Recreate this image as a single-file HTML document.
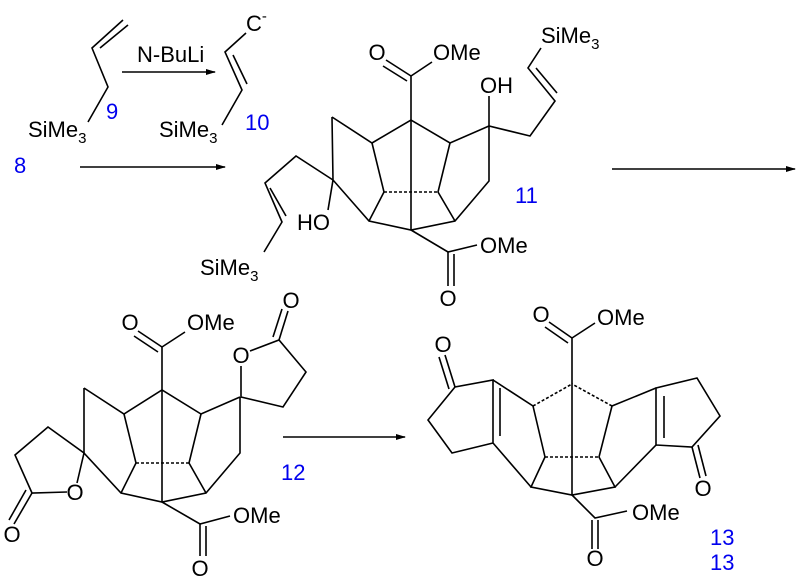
<!DOCTYPE html>
<html><head><meta charset="utf-8"><style>
html,body{margin:0;padding:0;background:#fff}
svg{display:block}
text{font-family:"Liberation Sans",sans-serif;font-size:22px;fill:#000}
.b{fill:#0000ee}
</style></head><body>
<svg width="800" height="584" viewBox="0 0 800 584" xmlns="http://www.w3.org/2000/svg">
<defs><marker id="ah" markerWidth="10" markerHeight="8" refX="9" refY="4" orient="auto" markerUnits="userSpaceOnUse"><path d="M0,1 L10,4 L0,7 Z" fill="#000"/></marker></defs>
<g stroke="#000" stroke-width="1.6" fill="none">
<line x1="122" y1="72" x2="215" y2="72" marker-end="url(#ah)"/>
<line x1="80" y1="167" x2="225" y2="167" marker-end="url(#ah)"/>
<line x1="612" y1="169" x2="795" y2="169" marker-end="url(#ah)"/>
<line x1="283" y1="437" x2="405" y2="437" marker-end="url(#ah)"/>
<polyline points="123,20 92,48 108,87 88,122"/>
<line x1="128" y1="25" x2="100" y2="48"/>
<polyline points="246,33 225,52 242,90 222,125"/>
<line x1="233" y1="55" x2="247" y2="84"/>
<polyline points="332,117 372,143 411,120 450,143 489,126 530,136 555,101 528,68 541,48"/>
<line x1="536" y1="68" x2="557" y2="93"/>
<polyline points="332,117 333,180 369,221 411,230 455,221 489,181 489,126"/>
<polyline points="372,143 384,192 369,221"/>
<polyline points="450,143 438,192 455,221"/>
<line x1="384" y1="192" x2="438" y2="192" stroke-dasharray="3,2"/>
<line x1="411" y1="120" x2="411" y2="230"/>
<line x1="489" y1="126" x2="489" y2="96"/>
<line x1="333" y1="180" x2="328" y2="210"/>
<polyline points="333,180 296,156 265,183 282,222 264,252"/>
<line x1="270" y1="188" x2="286" y2="216"/>
<polyline points="411,120 411,76 432,62"/>
<line x1="411" y1="76" x2="386" y2="60"/><line x1="407" y1="81" x2="383" y2="66"/>
<polyline points="411,230 448,252 477,245"/>
<line x1="448" y1="252" x2="448" y2="286"/><line x1="454" y1="254" x2="454" y2="286"/>
<polyline points="84,388 124,414 162,390 201,414 240,397"/>
<polyline points="84,388 84,453 121,493 162,502 206,493 240,453 240,397"/>
<polyline points="124,414 136,463 121,493"/>
<polyline points="201,414 189,463 206,493"/>
<line x1="136" y1="463" x2="189" y2="463" stroke-dasharray="3,2"/>
<line x1="162" y1="390" x2="162" y2="502"/>
<polyline points="77,483 84,453 48,427 15,455 32,493 67,492"/>
<line x1="32" y1="493" x2="14" y2="524"/><line x1="26" y1="490" x2="9" y2="520"/>
<polyline points="241,366 241,397 283,407 306,372 279,340 250,351"/>
<line x1="279" y1="340" x2="288" y2="311"/><line x1="273" y1="337" x2="282" y2="309"/>
<polyline points="162,390 162,347 185,332"/>
<line x1="162" y1="347" x2="138" y2="331"/><line x1="158" y1="352" x2="134" y2="336"/>
<polyline points="162,502 200,524 230,516"/>
<line x1="200" y1="524" x2="200" y2="556"/><line x1="206" y1="526" x2="206" y2="556"/>
<polyline points="493,380 533,406 545,457 531,487 572,495 615,487 599,457 612,406 656,388"/>
<line x1="533" y1="406" x2="572" y2="384" stroke-dasharray="3,2"/>
<line x1="612" y1="406" x2="572" y2="384" stroke-dasharray="3,2"/>
<line x1="545" y1="457" x2="599" y2="457" stroke-dasharray="3,2"/>
<line x1="572" y1="384" x2="572" y2="495"/>
<polyline points="531,487 493,443 493,380 455,387 428,420 452,453 493,443"/>
<line x1="500" y1="388" x2="500" y2="436"/>
<line x1="455" y1="387" x2="445" y2="355"/><line x1="449" y1="389" x2="439" y2="357"/>
<polyline points="615,487 656,445 656,388 697,378 720,416 692,447 656,445"/>
<line x1="664" y1="396" x2="664" y2="438"/>
<line x1="692" y1="447" x2="700" y2="478"/><line x1="698" y1="445" x2="706" y2="476"/>
<polyline points="572,384 572,338 595,323"/>
<line x1="572" y1="338" x2="549" y2="322"/><line x1="568" y1="343" x2="545" y2="327"/>
<polyline points="572,495 595,518 627,511"/>
<line x1="592" y1="520" x2="592" y2="549"/><line x1="598" y1="520" x2="598" y2="549"/>
</g>
<text x="137" y="62">N-BuLi</text>
<text x="28" y="137">SiMe<tspan font-size="15" dy="6">3</tspan></text>
<text x="159" y="137">SiMe<tspan font-size="15" dy="6">3</tspan></text>
<text x="246" y="31">C<tspan font-size="15" dy="-10">-</tspan></text>
<text x="541" y="43">SiMe<tspan font-size="15" dy="6">3</tspan></text>
<text x="200" y="275">SiMe<tspan font-size="15" dy="6">3</tspan></text>
<text x="480" y="93">OH</text>
<text x="297" y="230">HO</text>
<g text-anchor="middle">
<text x="377" y="60">O</text>
<text x="448" y="306">O</text>
<text x="130" y="330">O</text>
<text x="200" y="576">O</text>
<text x="12" y="542">O</text>
<text x="75" y="500">O</text>
<text x="241" y="363">O</text>
<text x="291" y="308">O</text>
<text x="541" y="322">O</text>
<text x="443" y="352">O</text>
<text x="703" y="496">O</text>
<text x="595" y="566">O</text>
</g>
<text x="433" y="60">OMe</text>
<text x="480" y="253">OMe</text>
<text x="187" y="330">OMe</text>
<text x="233" y="523">OMe</text>
<text x="597" y="325">OMe</text>
<text x="632" y="520">OMe</text>
<text class="b" x="106" y="119">9</text>
<text class="b" x="245" y="130">10</text>
<text class="b" x="14" y="173">8</text>
<text class="b" x="515" y="203">11</text>
<text class="b" x="281" y="480">12</text>
<text class="b" x="710" y="545">13</text>
<text class="b" x="710" y="570">13</text>
</svg>
</body></html>
